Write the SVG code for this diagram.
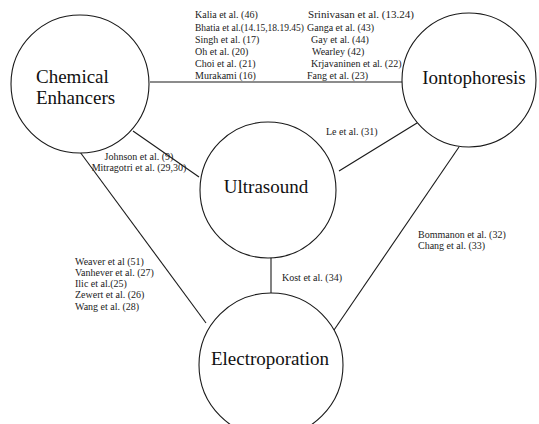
<svg xmlns="http://www.w3.org/2000/svg" width="539" height="424" viewBox="0 0 539 424">
<style>
.node{fill:#fff;stroke:#1a1a1a;stroke-width:1.1}
text{font-family:'Liberation Serif','Times New Roman',serif}
.big{font-size:19px;fill:#111}
.ref{font-size:10px;fill:#222}
.conn line{stroke:#1a1a1a;stroke-width:1.1}
</style>
<rect width="539" height="424" fill="#fff"/>
<g id="connectors" class="conn">
<line x1="150" y1="82" x2="402" y2="82"/>
<line x1="133" y1="131" x2="199" y2="177"/>
<line x1="80" y1="152" x2="206" y2="323"/>
<line x1="339" y1="171" x2="417" y2="123"/>
<line x1="271" y1="257" x2="271" y2="293"/>
<line x1="459" y1="147" x2="334" y2="330"/>
</g>
<g id="chemical">
<circle class="node" cx="80" cy="84" r="69"/>
<text class="big" x="36" y="83">Chemical</text>
<text class="big" x="36" y="104">Enhancers</text>
</g>
<g id="iontophoresis">
<circle class="node" cx="469" cy="80" r="67"/>
<text class="big" x="474" y="84" text-anchor="middle">Iontophoresis</text>
</g>
<g id="ultrasound">
<circle class="node" cx="268" cy="190" r="68"/>
<text class="big" x="266" y="193" text-anchor="middle">Ultrasound</text>
</g>
<g id="electroporation">
<circle class="node" cx="271" cy="365" r="72"/>
<text class="big" x="270" y="365" text-anchor="middle" font-size="19.5">Electroporation</text>
</g>
<g id="labels">
<text class="ref" font-size="10.4" x="195" y="18">Kalia et al. (46)</text>
<text class="ref" font-size="10.4" x="195" y="31" textLength="109" lengthAdjust="spacingAndGlyphs">Bhatia et al.(14.15,18.19.45)</text>
<text class="ref" font-size="10.4" x="195" y="43">Singh et al. (17)</text>
<text class="ref" font-size="10.4" x="195" y="55">Oh et al. (20)</text>
<text class="ref" font-size="10.4" x="195" y="67">Choi et al. (21)</text>
<text class="ref" font-size="10.4" x="195" y="79">Murakami (16)</text>
<text class="ref" x="308" y="18" textLength="106" lengthAdjust="spacingAndGlyphs">Srinivasan et al. (13.24)</text>
<text class="ref" x="307" y="31">Ganga et al. (43)</text>
<text class="ref" x="311" y="43">Gay et al. (44)</text>
<text class="ref" x="312" y="55">Wearley (42)</text>
<text class="ref" x="311" y="67">Krjavaninen et al. (22)</text>
<text class="ref" x="307" y="79">Fang et al. (23)</text>
<text class="ref" x="326" y="135">Le et al. (31)</text>
<text class="ref" font-size="9.8" x="139" y="160" text-anchor="middle">Johnson et al. (9)</text>
<text class="ref" font-size="9.8" x="139" y="171" text-anchor="middle">Mitragotri et al. (29,30)</text>
<text class="ref" font-size="10.3" x="75" y="265">Weaver et al (51)</text>
<text class="ref" font-size="10.3" x="75" y="276">Vanhever et al. (27)</text>
<text class="ref" font-size="10.3" x="75" y="287">Ilic et al.(25)</text>
<text class="ref" font-size="10.3" x="75" y="298">Zewert et al. (26)</text>
<text class="ref" font-size="10.3" x="75" y="310">Wang et al. (28)</text>
<text class="ref" font-size="10.4" x="282" y="281">Kost et al. (34)</text>
<text class="ref" font-size="9.2" x="418" y="238">Bommanon et al. (32)</text>
<text class="ref" font-size="9.2" x="418" y="249">Chang et al. (33)</text>
</g>
</svg>
